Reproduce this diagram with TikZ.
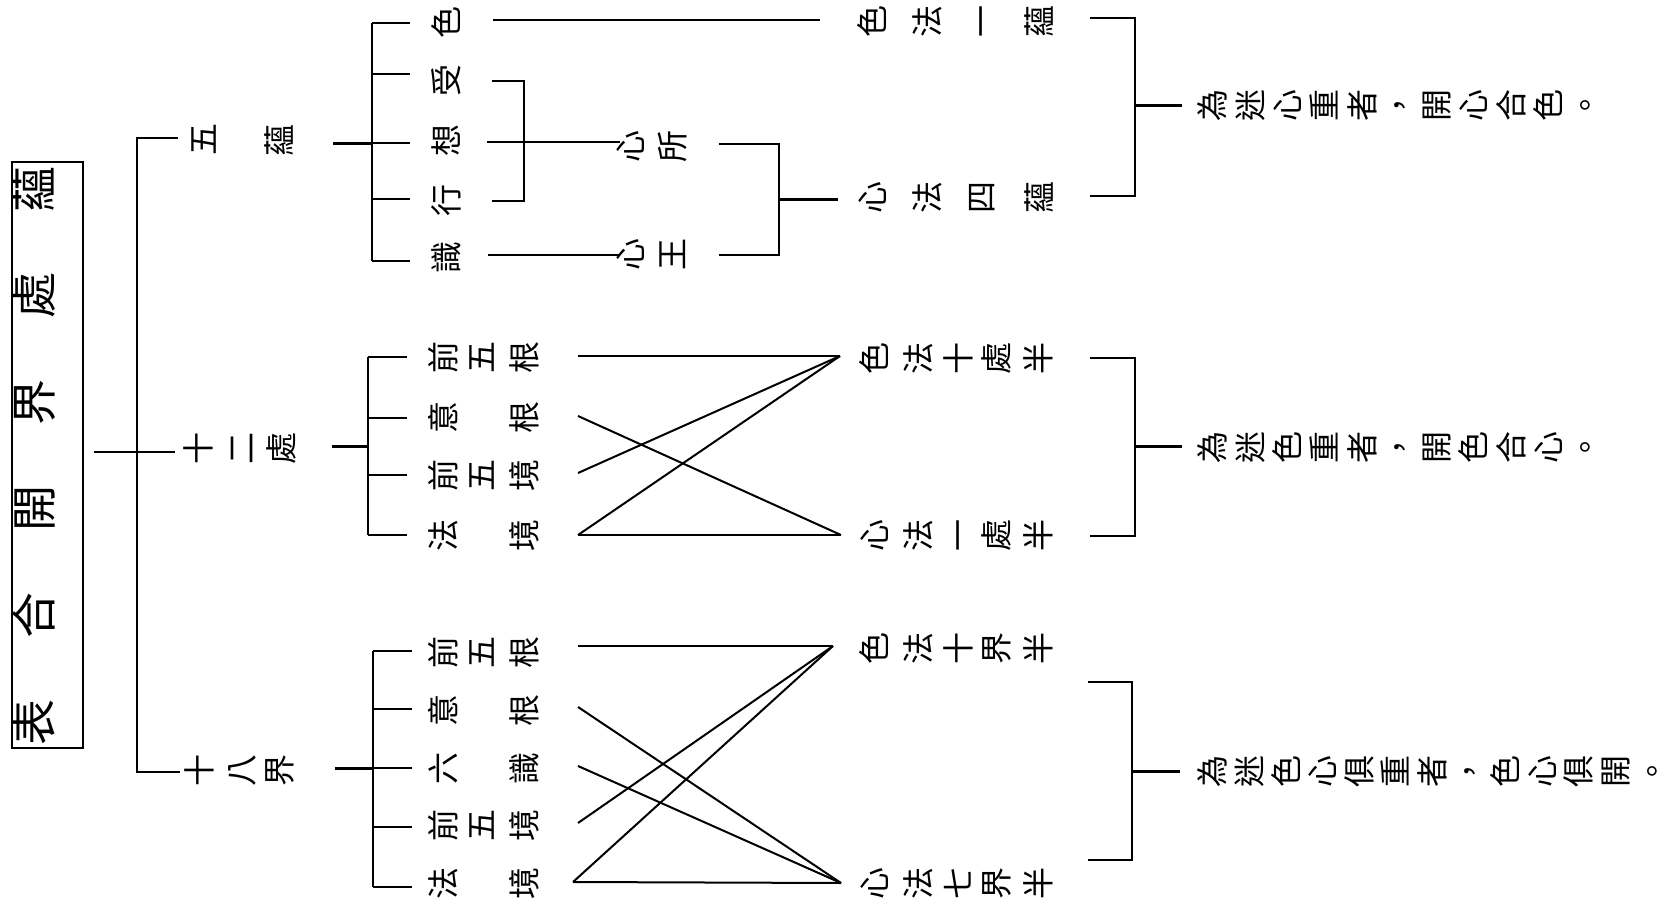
\documentclass[tikz,border=0pt]{standalone}
\usepackage{fontspec}
\newfontfamily\cjk{Noto Sans CJK TC}
\tikzset{
  ln/.style={line width=2pt},
  thk/.style={line width=3pt},
  ch/.style={rotate=90, inner sep=0pt, text height=0.88em, text depth=0.12em, font=\cjk\fontsize{32}{32}\selectfont},
  big/.style={ch, font=\cjk\fontsize{46}{46}\selectfont},
}
\begin{document}
\begin{tikzpicture}[x=1pt,y=-1pt]
\useasboundingbox (0,0) rectangle (1674,910);
% ---------- title ----------
\node[draw, line width=2pt, minimum width=71pt, minimum height=586pt, inner sep=0pt] (tbox) at (47.5,455) {};
\foreach \c [count=\i] in {表,合,開,界,處,蘊} \node[big] (t\i) at (48,{722-106.6*(\i-1)}) {\c};
% ---------- main stem ----------
\coordinate (m0) at (94,452); \coordinate (m1) at (175,452);
\coordinate (mt) at (137,138); \coordinate (mt1) at (178,138);
\coordinate (mb) at (137,772); \coordinate (mb1) at (180,772);
\draw[ln] (m0) -- (m1);
\draw[ln] (mt1) -- (mt) -- (mb) -- (mb1);
% ---------- level 1 labels ----------
\node[ch] (wu1) at (212,139) {五}; \node[ch] (wu2) at (288,140) {蘊};
\node[ch] (sh1) at (207,448) {十}; \node[ch] (sh2) at (250,448) {二}; \node[ch] (sh3) at (290,448) {處};
\node[ch] (se1) at (208,770) {十}; \node[ch] (se2) at (250,770) {八}; \node[ch] (se3) at (288,770) {界};
% ================= A: five aggregates =================
\coordinate (a0) at (333,143); \coordinate (a1) at (372,143);
\draw[thk] (a0) -- (a1);
\coordinate (atop) at (372,23); \coordinate (abot) at (372,261);
\draw[ln] (atop) -- (abot);
\foreach \y [count=\i] in {23,74,143,199,261} {
  \coordinate (ab\i) at (372,\y); \coordinate (ae\i) at (410,\y);
  \draw[ln] (ab\i) -- (ae\i);
}
\foreach \c/\y [count=\i] in {色/22,受/80,想/140,行/200,識/257} \node[ch] (ai\i) at (455,\y) {\c};
\coordinate (as1) at (493,20); \coordinate (as2) at (820,20);
\draw[ln] (as1) -- (as2);
\coordinate (aq1) at (492,81); \coordinate (aq2) at (524,81); \coordinate (aq3) at (524,201); \coordinate (aq4) at (492,201);
\draw[ln] (aq1) -- (aq2) -- (aq3) -- (aq4);
\coordinate (ax1) at (487,142); \coordinate (ax2) at (620,142);
\draw[ln] (ax1) -- (ax2);
\coordinate (ay1) at (488,255); \coordinate (ay2) at (620,255);
\draw[ln] (ay1) -- (ay2);
\node[ch] (xs1) at (639,146) {心}; \node[ch] (xs2) at (681,146) {所};
\node[ch] (xw1) at (639,254) {心}; \node[ch] (xw2) at (681,254) {王};
\coordinate (ak1) at (719,144); \coordinate (ak2) at (779,144); \coordinate (ak3) at (779,255); \coordinate (ak4) at (719,255);
\draw[ln] (ak1) -- (ak2) -- (ak3) -- (ak4);
\coordinate (akm) at (779,199); \coordinate (akm1) at (838,199);
\draw[thk] (akm) -- (akm1);
\foreach \c/\x [count=\i] in {色/881,法/936,一/990,蘊/1048} \node[ch] (ar\i) at (\x,21) {\c};
\foreach \c/\x [count=\i] in {心/881,法/936,四/990,蘊/1048} \node[ch] (am\i) at (\x,197) {\c};
\coordinate (ab1r) at (1090,18); \coordinate (ab2r) at (1135,18); \coordinate (ab3r) at (1135,196); \coordinate (ab4r) at (1090,196);
\draw[ln] (ab1r) -- (ab2r) -- (ab3r) -- (ab4r);
\coordinate (abm) at (1135,105); \coordinate (abm1) at (1182,105);
\draw[thk] (abm) -- (abm1);
\foreach \c [count=\i] in {為,迷,心,重,者,，,開,心,合,色,。} \node[ch] (ra\i) at ({1221+37.3*(\i-1)},105) {\c};
% ================= B: twelve bases =================
\coordinate (b0) at (332,446); \coordinate (b1) at (368,446);
\draw[thk] (b0) -- (b1);
\coordinate (btop) at (368,357); \coordinate (bbot) at (368,535);
\draw[ln] (btop) -- (bbot);
\foreach \y [count=\i] in {357,418,475,535} {
  \coordinate (bb\i) at (368,\y); \coordinate (be\i) at (407,\y);
  \draw[ln] (bb\i) -- (be\i);
}
\node[ch] (b11) at (452,357) {前}; \node[ch] (b12) at (490,357) {五}; \node[ch] (b13) at (533,357) {根};
\node[ch] (b21) at (452,417) {意}; \node[ch] (b23) at (533,417) {根};
\node[ch] (b31) at (452,475) {前}; \node[ch] (b32) at (490,475) {五}; \node[ch] (b33) at (533,475) {境};
\node[ch] (b41) at (452,535) {法}; \node[ch] (b43) at (533,535) {境};
\coordinate (bs1) at (578,356); \coordinate (bs2) at (578,416); \coordinate (bs3) at (578,473); \coordinate (bs4) at (578,535);
\coordinate (bT) at (840,356); \coordinate (bB) at (841,535);
\draw[ln] (bs1) -- (bT);
\draw[ln] (bs2) -- (bB);
\draw[ln] (bs3) -- (bT);
\draw[ln] (bs4) -- (bT);
\draw[ln] (bs4) -- (bB);
\foreach \c/\x [count=\i] in {色/883,法/927,十/967,處/1005,半/1047} \node[ch] (br\i) at (\x,358) {\c};
\foreach \c/\x [count=\i] in {心/883,法/927,一/967,處/1005,半/1047} \node[ch] (bm\i) at (\x,535) {\c};
\coordinate (bk1) at (1090,358); \coordinate (bk2) at (1135,358); \coordinate (bk3) at (1135,536); \coordinate (bk4) at (1090,536);
\draw[ln] (bk1) -- (bk2) -- (bk3) -- (bk4);
\coordinate (bkm) at (1135,446); \coordinate (bkm1) at (1182,446);
\draw[thk] (bkm) -- (bkm1);
\foreach \c [count=\i] in {為,迷,色,重,者,，,開,色,合,心,。} \node[ch] (rb\i) at ({1221+37.3*(\i-1)},447) {\c};
% ================= C: eighteen realms =================
\coordinate (c0) at (335,768); \coordinate (c1) at (373,768);
\draw[thk] (c0) -- (c1);
\coordinate (ctop) at (373,651); \coordinate (cbot) at (373,887);
\draw[ln] (ctop) -- (cbot);
\foreach \y [count=\i] in {651,709,768,827,887} {
  \coordinate (cb\i) at (373,\y); \coordinate (ce\i) at (412,\y);
  \draw[ln] (cb\i) -- (ce\i);
}
\node[ch] (c11) at (452,652) {前}; \node[ch] (c12) at (490,652) {五}; \node[ch] (c13) at (533,652) {根};
\node[ch] (c21) at (452,710) {意}; \node[ch] (c23) at (533,710) {根};
\node[ch] (c31) at (452,768) {六}; \node[ch] (c33) at (533,768) {識};
\node[ch] (c41) at (452,825) {前}; \node[ch] (c42) at (490,825) {五}; \node[ch] (c43) at (533,825) {境};
\node[ch] (c51) at (452,883) {法}; \node[ch] (c53) at (533,883) {境};
\coordinate (cs1) at (578,646); \coordinate (cs2) at (578,707); \coordinate (cs3) at (578,766); \coordinate (cs4) at (578,823); \coordinate (cs5) at (573,882);
\coordinate (cT) at (833,646); \coordinate (cB) at (841,883);
\draw[ln] (cs1) -- (cT);
\draw[ln] (cs2) -- (cB);
\draw[ln] (cs3) -- (cB);
\draw[ln] (cs4) -- (cT);
\draw[ln] (cs5) -- (cT);
\draw[ln] (cs5) -- (cB);
\foreach \c/\x [count=\i] in {色/883,法/927,十/967,界/1005,半/1047} \node[ch] (cr\i) at (\x,648) {\c};
\foreach \c/\x [count=\i] in {心/883,法/927,七/967,界/1005,半/1047} \node[ch] (cm\i) at (\x,883) {\c};
\coordinate (ck1) at (1088,682); \coordinate (ck2) at (1132,682); \coordinate (ck3) at (1132,860); \coordinate (ck4) at (1088,860);
\draw[ln] (ck1) -- (ck2) -- (ck3) -- (ck4);
\coordinate (ckm) at (1132,771); \coordinate (ckm1) at (1180,771);
\draw[thk] (ckm) -- (ckm1);
\foreach \c [count=\i] in {為,迷,色,心,俱,重,者,，,色,心,俱,開,。} \node[ch] (rc\i) at ({1221+36.6*(\i-1)},771) {\c};
\end{tikzpicture}
\end{document}
